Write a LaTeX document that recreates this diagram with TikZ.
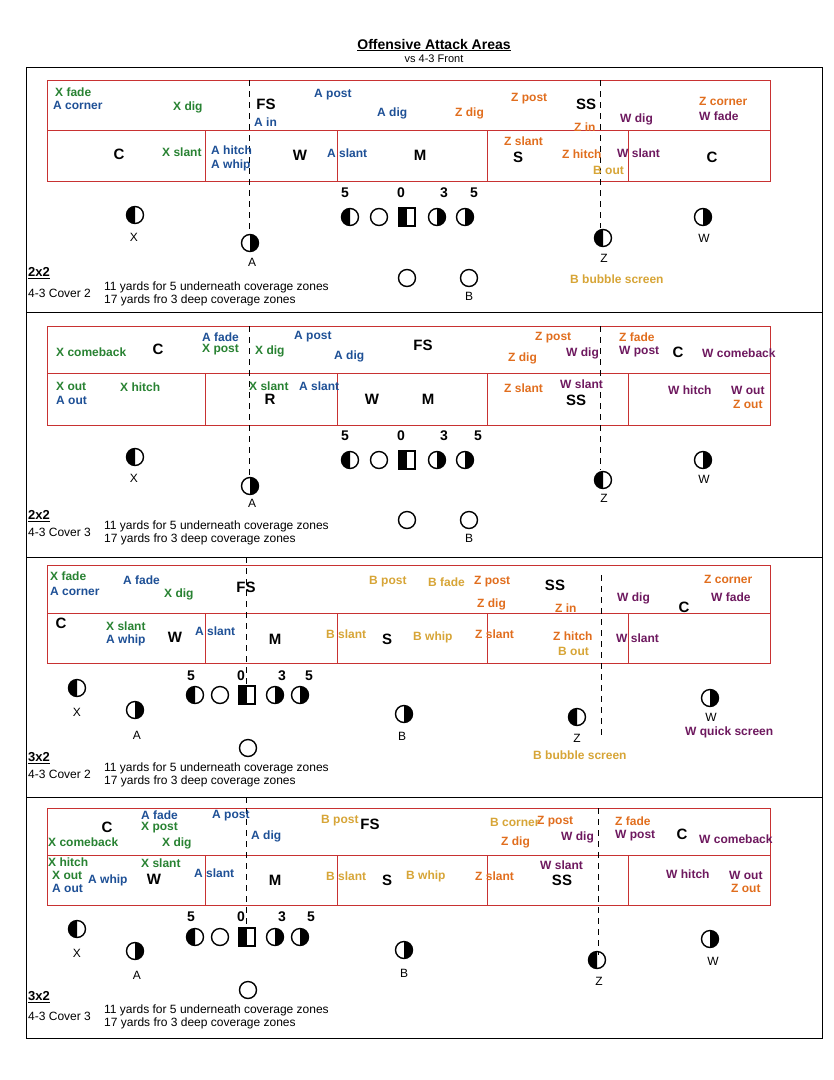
\documentclass[tikz,border=0pt]{standalone}
\usepackage{fontspec}
\setmainfont{Liberation Sans}
\usetikzlibrary{positioning}
\definecolor{xgreen}{RGB}{40,130,50}
\definecolor{ablue}{RGB}{30,80,150}
\definecolor{zorange}{RGB}{225,110,30}
\definecolor{wpurple}{RGB}{110,25,95}
\definecolor{bgold}{RGB}{215,165,55}
\definecolor{zonered}{RGB}{200,50,50}
\tikzset{
  lab/.style={anchor=west,inner sep=0pt,font=\bfseries\fontsize{12}{13}\selectfont},
  def/.style={inner sep=0pt,font=\bfseries\fontsize{15}{16}\selectfont},
  plabel/.style={inner sep=0pt,font=\fontsize{12}{13}\selectfont},
  num/.style={inner sep=0pt,font=\bfseries\fontsize{14}{15}\selectfont},
  zone/.style={draw=zonered,line width=0.9pt},
  split/.style={line width=0.8pt,dash pattern=on 6pt off 5pt}
}
% player with one half filled: x, y, side (l or r)
\newcommand\plyr[3]{%
  \begin{scope}
    \if#3l\clip (#1-10,#2-10) rectangle (#1,#2+10);\else\clip (#1,#2-10) rectangle (#1+10,#2+10);\fi
    \fill (#1,#2) circle (8.5);
  \end{scope}
  \draw[line width=1.4pt] (#1,#2) circle (8.5);}
\newcommand\ctr[2]{%
  \fill (#1-8,#2-9) rectangle (#1,#2+9);
  \draw[line width=1.4pt] (#1-8,#2-9) rectangle (#1+8,#2+9);}
\newcommand\back[2]{\draw[line width=1.4pt] (#1,#2) circle (8.5);}
% zone boxes: top y, middle y, bottom y
\newcommand\zones[3]{%
  \draw[zone] (47,#1) rectangle (770,#3);
  \draw[zone] (47,#2) -- (770,#2);
  \foreach \dx in {205,337,487,628} \draw[zone] (\dx,#2) -- (\dx,#3);}
\newcommand\notes[4]{%
  \node[anchor=west,inner sep=0pt,font=\bfseries\fontsize{13}{14}\selectfont] at (28,#1) {\underline{#2}};
  \node[anchor=west,inner sep=0pt,font=\fontsize{12}{13}\selectfont] at (28,#3+6) {4-3 Cover #4};
  \node[anchor=west,inner sep=0pt,font=\fontsize{12}{13}\selectfont] at (104,#3) {11 yards for 5 underneath coverage zones};
  \node[anchor=west,inner sep=0pt,font=\fontsize{12}{13}\selectfont] at (104,#3+13) {17 yards fro 3 deep coverage zones};}
\begin{document}
\begin{tikzpicture}[x=1pt,y=-1pt]
\useasboundingbox[fill=white] (0,0) rectangle (834,1080);
% title
\node[inner sep=0pt,font=\bfseries\fontsize{14}{15}\selectfont] (title) at (434,45) {\underline{Offensive Attack Areas}};
\node[inner sep=0pt,font=\fontsize{11}{12}\selectfont,below=3pt of title] (sub) {vs 4-3 Front};
% frame
\draw[line width=1pt] (26,67) rectangle (822,1038);
\foreach \py in {312,557,797} \draw[line width=1pt] (26,\py) -- (822,\py);

% ---------- panel 1 ----------
\zones{80}{130}{181}
\draw[split] (249,80) -- (249,235);
\draw[split] (600,80) -- (600,228);
\foreach \x/\y/\c/\t in {55/92/xgreen/X fade,53/105/ablue/A corner,173/107/xgreen/X dig,
  254/122/ablue/A in,314/95/ablue/A post,377/113/ablue/A dig,455/113/zorange/Z dig,
  511/99/zorange/Z post,574/127/zorange/Z in,620/119/wpurple/W dig,699/101/zorange/Z corner,
  699/116/wpurple/W fade,162/152/xgreen/X slant,211/150/ablue/A hitch,211/165/ablue/A whip,
  327/153/ablue/A slant,504/141/zorange/Z slant,562/154/zorange/Z hitch,593/170/bgold/B out,
  617/153/wpurple/W slant,570/279/bgold/B bubble screen}
  \node[lab,text=\c] at (\x,\y) {\t};
\foreach \x/\y/\t in {266/104/FS,586/104/SS,119/154/C,300/155/W,420/155/M,518/157/S,712/157/C}
  \node[def] at (\x,\y) {\t};
\foreach \x/\t in {345/5,401/0,444/3,474/5} \node[num] at (\x,193) {\t};
\plyr{135}{215}{l} \node[plabel] at (134,237) {X};
\plyr{250}{243}{r} \node[plabel] at (252,262) {A};
\plyr{350}{217}{l} \back{379}{217} \ctr{407}{217} \plyr{437}{217}{r} \plyr{465}{217}{r}
\plyr{603}{238}{l} \node[plabel] at (604,258) {Z};
\plyr{703}{217}{r} \node[plabel] at (704,238) {W};
\back{407}{278} \back{469}{278} \node[plabel] at (469,296) {B};
\notes{273}{2x2}{287}{2}

% ---------- panel 2 ----------
\zones{326}{373}{425}
\draw[split] (249,326) -- (249,478);
\draw[split] (600,326) -- (600,470);
\foreach \x/\y/\c/\t in {56/352/xgreen/X comeback,202/337/ablue/A fade,202/350/xgreen/X post,
  255/351/xgreen/X dig,294/337/ablue/A post,334/356/ablue/A dig,535/338/zorange/Z post,
  508/358/zorange/Z dig,566/353/wpurple/W dig,619/337/zorange/Z fade,619/352/wpurple/W post,
  702/353/wpurple/W comeback,56/386/xgreen/X out,56/400/ablue/A out,120/387/xgreen/X hitch,
  249/386/xgreen/X slant,299/386/ablue/A slant,504/388/zorange/Z slant,560/384/wpurple/W slant,
  668/390/wpurple/W hitch,731/390/wpurple/W out,733/404/zorange/Z out}
  \node[lab,text=\c] at (\x,\y) {\t};
\foreach \x/\y/\t in {158/349/C,423/345/FS,678/352/C,270/399/R,372/399/W,428/399/M,576/400/SS}
  \node[def] at (\x,\y) {\t};
\foreach \x/\t in {345/5,401/0,444/3,478/5} \node[num] at (\x,436) {\t};
\plyr{135}{457}{l} \node[plabel] at (134,478) {X};
\plyr{250}{486}{r} \node[plabel] at (252,503) {A};
\plyr{350}{460}{l} \back{379}{460} \ctr{407}{460} \plyr{437}{460}{r} \plyr{465}{460}{r}
\plyr{603}{480}{l} \node[plabel] at (604,498) {Z};
\plyr{703}{460}{r} \node[plabel] at (704,479) {W};
\back{407}{520} \back{469}{520} \node[plabel] at (469,538) {B};
\notes{516}{2x2}{526}{3}

% ---------- panel 3 ----------
\zones{565}{613}{663}
\draw[split] (246,557) -- (246,690);
\draw[split] (601,575) -- (601,735);
\foreach \x/\y/\c/\t in {50/576/xgreen/X fade,50/591/ablue/A corner,123/580/ablue/A fade,
  164/594/xgreen/X dig,369/582/bgold/B post,428/582/bgold/B fade,474/582/zorange/Z post,
  477/604/zorange/Z dig,555/608/zorange/Z in,617/598/wpurple/W dig,704/579/zorange/Z corner,
  711/597/wpurple/W fade,106/626/xgreen/X slant,106/640/ablue/A whip,195/631/ablue/A slant,
  326/634/bgold/B slant,413/637/bgold/B whip,475/634/zorange/Z slant,553/636/zorange/Z hitch,
  558/651/bgold/B out,616/638/wpurple/W slant,685/732/wpurple/W quick screen,533/755/bgold/B bubble screen}
  \node[lab,text=\c] at (\x,\y) {\t};
\foreach \x/\y/\t in {246/587/FS,555/585/SS,684/607/C,61/623/C,175/637/W,275/639/M,387/639/S}
  \node[def] at (\x,\y) {\t};
\foreach \x/\t in {191/5,241/0,282/3,309/5} \node[num] at (\x,676) {\t};
\plyr{77}{688}{l} \node[plabel] at (77,712) {X};
\plyr{135}{710}{r} \node[plabel] at (137,735) {A};
\plyr{195}{695}{l} \back{220}{695} \ctr{247}{695} \plyr{275}{695}{r} \plyr{300}{695}{r}
\plyr{404}{714}{r} \node[plabel] at (402,736) {B};
\plyr{577}{717}{l} \node[plabel] at (577,738) {Z};
\plyr{710}{698}{r} \node[plabel] at (711,717) {W};
\back{248}{748}
\notes{758}{3x2}{768}{2}

% ---------- panel 4 ----------
\zones{808}{855}{905}
\draw[split] (246,797) -- (246,930);
\draw[split] (598,808) -- (598,955);
\foreach \x/\y/\c/\t in {48/842/xgreen/X comeback,141/815/ablue/A fade,141/828/xgreen/X post,
  162/843/xgreen/X dig,212/816/ablue/A post,251/836/ablue/A dig,321/821/bgold/B post,
  490/822/bgold/B corner,537/822/zorange/Z post,501/842/zorange/Z dig,561/837/wpurple/W dig,
  615/821/zorange/Z fade,615/836/wpurple/W post,699/839/wpurple/W comeback,48/862/xgreen/X hitch,
  52/875/xgreen/X out,52/888/ablue/A out,88/880/ablue/A whip,141/863/xgreen/X slant,
  194/873/ablue/A slant,326/876/bgold/B slant,406/876/bgold/B whip,475/876/zorange/Z slant,
  540/865/wpurple/W slant,666/874/wpurple/W hitch,729/875/wpurple/W out,731/888/zorange/Z out}
  \node[lab,text=\c] at (\x,\y) {\t};
\foreach \x/\y/\t in {107/827/C,370/824/FS,682/834/C,154/879/W,275/880/M,387/880/S,562/880/SS}
  \node[def] at (\x,\y) {\t};
\foreach \x/\t in {191/5,241/0,282/3,311/5} \node[num] at (\x,917) {\t};
\plyr{77}{929}{l} \node[plabel] at (77,953) {X};
\plyr{135}{951}{r} \node[plabel] at (137,975) {A};
\plyr{195}{937}{l} \back{220}{937} \ctr{247}{937} \plyr{275}{937}{r} \plyr{300}{937}{r}
\plyr{404}{950}{r} \node[plabel] at (404,973) {B};
\plyr{597}{960}{l} \node[plabel] at (599,981) {Z};
\plyr{710}{939}{r} \node[plabel] at (713,961) {W};
\back{248}{990}
\notes{997}{3x2}{1010}{3}
\end{tikzpicture}
\end{document}
